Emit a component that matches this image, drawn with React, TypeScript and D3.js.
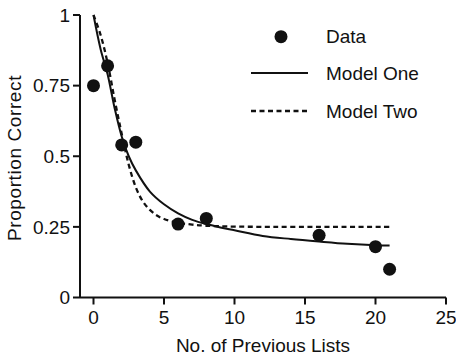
import * as d3 from 'd3'
import { useRef, useEffect } from 'react'

const W = 456, H = 364

// observed data
const dataX = [0, 1, 2, 3, 6, 8, 16, 20, 21]
const dataY = [0.75, 0.82, 0.54, 0.55, 0.26, 0.28, 0.22, 0.18, 0.10]

// model one (solid)
const modelOneX = [0, 0.5, 1, 1.5, 2, 2.5, 3, 4, 5, 6, 7, 8, 9, 10, 12, 14, 16, 18, 20, 21]
const modelOneY = [1.0, 0.88, 0.79, 0.67, 0.57, 0.5, 0.45, 0.375, 0.33, 0.298, 0.275, 0.26, 0.248, 0.238, 0.218, 0.207, 0.198, 0.19, 0.185, 0.184]

// model two (dashed)
const modelTwoX = [0, 0.5, 1, 1.5, 2, 2.5, 3, 3.5, 4, 4.5, 5, 6, 7, 8, 10, 21]
const modelTwoY = [1.0, 0.93, 0.83, 0.7, 0.58, 0.47, 0.39, 0.34, 0.31, 0.29, 0.278, 0.265, 0.258, 0.254, 0.251, 0.25]

const xTicks = [0, 5, 10, 15, 20, 25]
const yTicks = [0, 0.25, 0.5, 0.75, 1]
const yTickLabels = ['0', '0.25', '0.5', '0.75', '1']

const legendItems = ['Data', 'Model One', 'Model Two']

const FONT = 'Liberation Sans, Arial, Helvetica, sans-serif'
const INK = '#111'

export default function App() {
  const svgRef = useRef<SVGSVGElement>(null)

  useEffect(() => {
    const svg = d3.select(svgRef.current)
    svg.selectAll('*').remove()

    const xSc = d3.scaleLinear().domain([0, 25]).range([93.5, 446])
    const ySc = d3.scaleLinear().domain([0, 1]).range([297.5, 15])
    const axisLeftX = 80

    // axes lines
    svg.append('line').attr('x1', axisLeftX).attr('x2', xSc(25)).attr('y1', ySc(0)).attr('y2', ySc(0))
      .attr('stroke', INK).attr('stroke-width', 2)
    svg.append('line').attr('x1', axisLeftX).attr('x2', axisLeftX).attr('y1', ySc(0)).attr('y2', ySc(1))
      .attr('stroke', INK).attr('stroke-width', 2)

    // x ticks
    xTicks.forEach((t) => {
      svg.append('line').attr('x1', xSc(t)).attr('x2', xSc(t)).attr('y1', ySc(0)).attr('y2', ySc(0) + 7)
        .attr('stroke', INK).attr('stroke-width', 2)
      svg.append('text').attr('x', xSc(t)).attr('y', ySc(0) + 26).attr('text-anchor', 'middle')
        .attr('font-family', FONT).attr('font-size', 19).attr('fill', INK).text(t)
    })

    // y ticks
    yTicks.forEach((t, i) => {
      svg.append('line').attr('x1', axisLeftX - 7).attr('x2', axisLeftX).attr('y1', ySc(t)).attr('y2', ySc(t))
        .attr('stroke', INK).attr('stroke-width', 2)
      svg.append('text').attr('x', axisLeftX - 10).attr('y', ySc(t)).attr('dy', '0.35em').attr('text-anchor', 'end')
        .attr('font-family', FONT).attr('font-size', 19).attr('fill', INK).text(yTickLabels[i])
    })

    // axis titles
    svg.append('text').attr('x', 263).attr('y', 352).attr('text-anchor', 'middle')
      .attr('font-family', FONT).attr('font-size', 19).attr('fill', INK).text('No. of Previous Lists')
    svg.append('text').attr('transform', 'translate(21,158) rotate(-90)').attr('text-anchor', 'middle')
      .attr('font-family', FONT).attr('font-size', 19).attr('letter-spacing', 0.6).attr('fill', INK).text('Proportion Correct')

    // model lines
    const line = d3.line<[number, number]>().x(([x]) => xSc(x)).y(([, y]) => ySc(y)).curve(d3.curveCatmullRom.alpha(0.5))
    const m1 = modelOneX.map((x, i) => [x, modelOneY[i]] as [number, number])
    const m2 = modelTwoX.map((x, i) => [x, modelTwoY[i]] as [number, number])
    svg.append('path').datum(m2).attr('fill', 'none').attr('stroke', INK).attr('stroke-width', 2.3)
      .attr('stroke-dasharray', '5,3.5').attr('d', line)
    svg.append('path').datum(m1).attr('fill', 'none').attr('stroke', INK).attr('stroke-width', 2).attr('d', line)

    // data points
    dataX.forEach((x, i) => {
      svg.append('circle').attr('cx', xSc(x)).attr('cy', ySc(dataY[i])).attr('r', 6.5).attr('fill', INK)
    })

    // legend
    const legY = [36.7, 73, 111]
    svg.append('circle').attr('cx', 281).attr('cy', legY[0]).attr('r', 6.5).attr('fill', INK)
    svg.append('line').attr('x1', 251).attr('x2', 308).attr('y1', legY[1]).attr('y2', legY[1])
      .attr('stroke', INK).attr('stroke-width', 2)
    svg.append('line').attr('x1', 251).attr('x2', 308).attr('y1', legY[2]).attr('y2', legY[2])
      .attr('stroke', INK).attr('stroke-width', 2.3).attr('stroke-dasharray', '5,3.5')
    legendItems.forEach((label, i) => {
      svg.append('text').attr('x', 326).attr('y', legY[i]).attr('dy', '0.35em')
        .attr('font-family', FONT).attr('font-size', 19).attr('fill', INK).text(label)
    })
  }, [])

  return (
    <svg ref={svgRef} width={W} height={H} viewBox={`0 0 ${W} ${H}`}
      style={{ position: 'absolute', left: 0, top: 0, background: '#fff' }} />
  )
}
